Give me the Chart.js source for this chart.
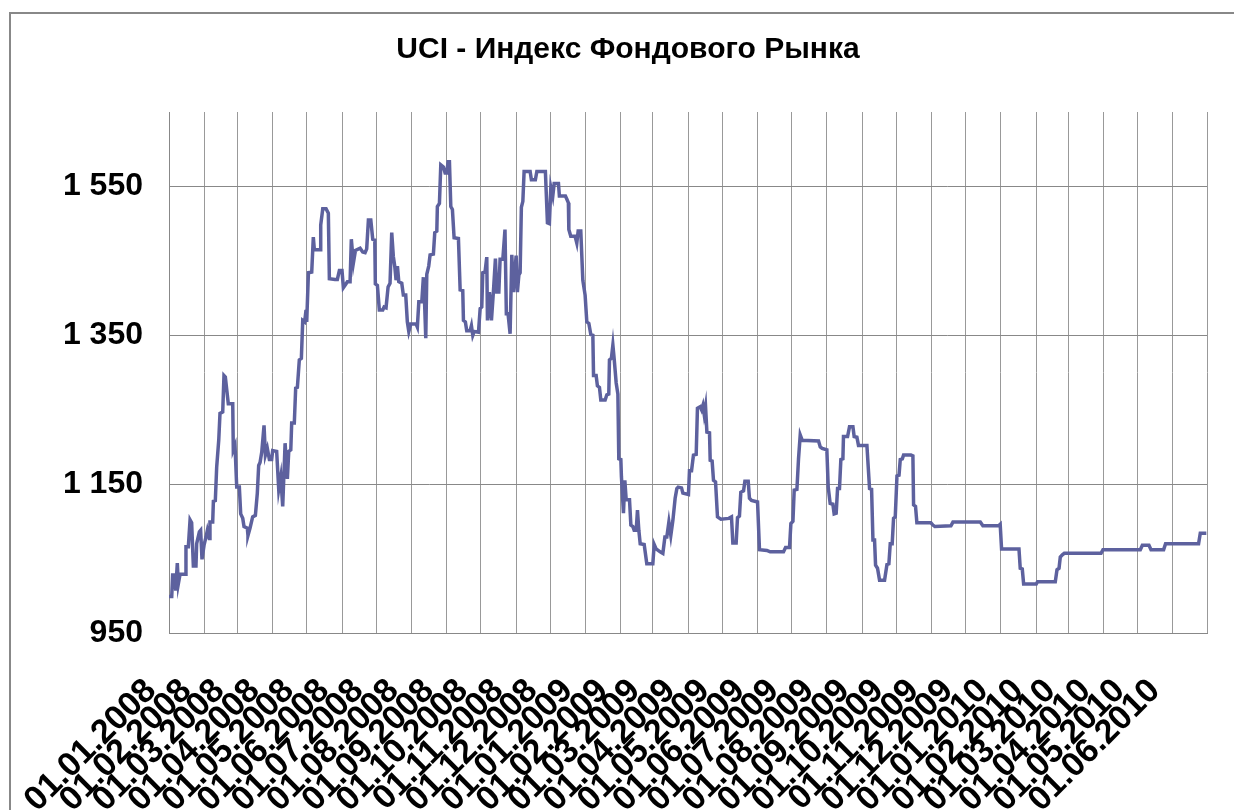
<!DOCTYPE html>
<html>
<head>
<meta charset="utf-8">
<script src="https://cdn.jsdelivr.net/npm/chart.js@4/dist/chart.umd.min.js"></script>
<style>
  body { margin: 0; background: #fff; }
  #wrap { position: relative; width: 1234px; height: 810px; overflow: hidden; }
  #frame { position: absolute; left: 9px; top: 12px; width: 1300px; height: 900px;
           border-left: 2px solid #888; border-top: 2px solid #888; }
  canvas { position: absolute; left: 0; top: 0; }
</style>
</head>
<body>
<div id="wrap">
  <div id="frame"></div>
  <canvas id="uciChart" width="1234" height="810"></canvas>
</div>
<script>
// день от 01.01.2008 и значение индекса UCI
var days = [0, 2.4, 3.2, 5.3, 5.9, 7.3, 8.2, 9.7, 14.1, 14.9, 17, 18.5, 19.9, 21.4, 23.7, 24.3, 26.7, 27.8, 29, 30.8,
  32.5, 33.7, 35.4, 36, 38.4, 39, 40.7, 41.9, 43.7, 44.8, 47.2, 48.3, 49.5, 52.1, 56, 56.5, 58, 59.5, 61.8, 63,
  64.8, 65.9, 68.8, 69.4, 71.2, 73.5, 75.9, 77.6, 78.8, 80, 81.5, 83.5, 84.7, 86.4, 88.2, 90.2, 91.1, 94.6, 96.4, 98.2,
  99.9, 102, 104, 105.2, 107, 107.8, 110.1, 111.3, 112.8, 114.5, 116.3, 117.5, 119.2, 120.4, 121, 122.5, 125.4, 126.8, 127.7, 132.7,
  133.3, 135.1, 138, 140, 140.9, 145.9, 147.9, 149.7, 152, 153.2, 155, 156.7, 159.1, 160.2, 162, 163.8, 167.9, 170.2, 172.3, 173.7,
  175.2, 177.3, 179, 180.8, 181.3, 183.1, 184.8, 187.8, 189, 190.7, 192.5, 194.2, 195.7, 197.1, 198.4, 199.5, 200.7, 201.9, 204.5, 205.9,
  208, 209.4, 210.7, 212.4, 217.1, 218.2, 219.5, 222.1, 223.5, 224.4, 225.6, 226.5, 228.2, 229.4, 232.3, 233.5, 235.3, 235.8, 237.6, 238.8,
  241.1, 242.6, 244.1, 245.2, 246.4, 247.6, 249, 250.5, 254.3, 255.8, 258.1, 258.7, 260.4, 261.6, 264.5, 265.7, 266.9, 268.1, 271.9, 273.4,
  274.8, 275.7, 277.7, 279.2, 279.8, 281.5, 283.3, 285, 286.8, 288, 289.8, 290.9, 293.3, 295.2, 296.4, 297.9, 299.7, 301.2, 302.6, 305,
  306.1, 307.4, 308.5, 309.6, 310.9, 312, 317.3, 318.4, 321.9, 323.2, 330.7, 332.5, 334.2, 335.5, 337.2, 338.4, 342.2, 343, 348.3, 349.5,
  350.9, 351.3, 353, 356.8, 358.3, 359.5, 361.8, 363.6, 365.6, 367.1, 368.9, 370.6, 372.4, 373, 375.3, 376.4, 378.2, 379.4, 383.2, 384.7,
  386.4, 387, 388.7, 390, 391.1, 392.9, 394.4, 395.2, 397, 397.5, 399.3, 400.5, 401.7, 404.6, 405.8, 407.6, 408.7, 410.5, 411.6, 412.8,
  414, 417.5, 419.8, 425.1, 426.3, 428, 431.5, 433.9, 435.7, 437.4, 439.2, 440.9, 442.7, 444.7, 446.2, 447.4, 450.3, 451.5, 456.4, 457.3,
  459.1, 460.8, 463.2, 464.3, 466.7, 467.9, 469.1, 470.2, 471.4, 472.6, 474.9, 475.5, 477.2, 478.4, 480.2, 481.9, 484.9, 491.9, 494.2, 495.4,
  498.3, 499.5, 501.2, 502.4, 504.8, 506, 508.9, 510, 511.8, 517.1, 518.8, 525.3, 528.2, 539.9, 541.7, 545.2, 546.4, 548.2, 549.3, 551.7,
  553.1, 554.6, 556.3, 570.7, 572.2, 573.9, 578, 579.2, 580.9, 583.3, 584.4, 586.2, 587.4, 589.1, 590.3, 592.1, 592.6, 596.2, 597.9, 600.9,
  602, 604.4, 605.8, 613.2, 615.5, 617.3, 618.5, 619.9, 620.8, 622.5, 624.3, 628.7, 630.8, 632.5, 633.7, 635.4, 636.6, 638.1, 639.6, 641.4,
  642.5, 644.3, 645.4, 651.9, 653.6, 654.2, 655.9, 657.1, 669.4, 671.2, 672.9, 687, 688.8, 712.8, 715.1, 728.9, 730.3, 731.5, 746.8, 747.9,
  749.7, 750.9, 762, 763.2, 778.7, 780.2, 782, 783.1, 784.9, 786.6, 818.9, 820.6, 853.4, 855.2, 861, 862.8, 873.9, 875.6, 904.6, 906.1,
  911.4];

var uci = [999, 999, 1028, 1028, 1007, 1044, 1016, 1029, 1029, 1066, 1066, 1102, 1098, 1040, 1040, 1070, 1086, 1088, 1049, 1068,
  1079, 1088, 1077, 1099, 1099, 1127, 1128, 1173, 1209, 1245, 1247, 1296, 1294, 1258, 1258, 1196, 1202, 1146, 1146, 1110,
  1104, 1093, 1091, 1081, 1091, 1106, 1108, 1138, 1175, 1179, 1193, 1229, 1189, 1198, 1183, 1183, 1195, 1194, 1143, 1160,
  1120, 1205, 1157, 1194, 1196, 1232, 1232, 1279, 1280, 1317, 1319, 1370, 1368, 1384, 1368, 1434, 1435, 1482, 1465, 1465,
  1498, 1520, 1520, 1514, 1426, 1425, 1425, 1437, 1437, 1414, 1418, 1422, 1422, 1479, 1447, 1464, 1467, 1462, 1461, 1466,
  1505, 1505, 1479, 1478, 1419, 1417, 1384, 1384, 1388, 1387, 1415, 1420, 1488, 1456, 1442, 1424, 1443, 1422, 1420, 1404,
  1404, 1368, 1355, 1365, 1365, 1361, 1395, 1395, 1428, 1401, 1346, 1432, 1443, 1458, 1459, 1488, 1490, 1523, 1527, 1579,
  1576, 1568, 1568, 1583, 1583, 1523, 1519, 1481, 1480, 1411, 1410, 1370, 1368, 1356, 1356, 1363, 1350, 1355, 1354, 1386,
  1388, 1434, 1435, 1455, 1370, 1408, 1370, 1408, 1453, 1408, 1408, 1452, 1452, 1492, 1379, 1379, 1352, 1458, 1408, 1457,
  1408, 1431, 1434, 1522, 1530, 1570, 1570, 1559, 1559, 1570, 1570, 1501, 1500, 1549, 1537, 1554, 1554, 1537, 1537, 1533,
  1528, 1492, 1483, 1483, 1474, 1490, 1490, 1424, 1404, 1368, 1366, 1351, 1350, 1296, 1296, 1282, 1280, 1263, 1263, 1270,
  1271, 1317, 1319, 1337, 1319, 1286, 1271, 1184, 1183, 1160, 1111, 1155, 1129, 1129, 1095, 1093, 1088, 1088, 1115, 1088,
  1070, 1069, 1043, 1043, 1069, 1063, 1059, 1057, 1079, 1079, 1099, 1081, 1101, 1131, 1144, 1146, 1145, 1138, 1136, 1168,
  1168, 1189, 1190, 1252, 1254, 1250, 1256, 1244, 1255, 1220, 1219, 1182, 1181, 1155, 1153, 1106, 1103, 1104, 1106, 1071,
  1071, 1105, 1107, 1139, 1141, 1154, 1154, 1131, 1128, 1126, 1062, 1061, 1059, 1059, 1065, 1065, 1097, 1100, 1142, 1143,
  1184, 1216, 1209, 1208, 1200, 1198, 1196, 1146, 1124, 1123, 1110, 1111, 1144, 1144, 1183, 1184, 1214, 1214, 1227, 1227,
  1214, 1213, 1202, 1202, 1144, 1143, 1075, 1075, 1041, 1037, 1021, 1021, 1042, 1043, 1070, 1070, 1104, 1106, 1161, 1162,
  1183, 1184, 1189, 1189, 1188, 1122, 1120, 1098, 1098, 1095, 1093, 1094, 1099, 1099, 1094, 1094, 1096, 1063, 1063, 1037,
  1036, 1016, 1016, 1019, 1019, 1035, 1037, 1052, 1055, 1057, 1057, 1062, 1062, 1068, 1068, 1062, 1062, 1070, 1070, 1084,
  1084];

// подписи оси Y
var yTicks = [950, 1150, 1350, 1550];

// начало каждого месяца: 01.01.2008 ... 01.07.2010
var monthStarts = [];
var monthLabels = [];
var start = Date.UTC(2008, 0, 1);
for (var y = 2008; y <= 2010; y++) {
    for (var m = 0; m < 12; m++) {
        if (y === 2010 && m > 6) break;
        monthStarts.push((Date.UTC(y, m, 1) - start) / 86400000);
        var mm = (m + 1 < 10 ? '0' : '') + (m + 1);
        monthLabels.push('01.' + mm + '.' + y);
    }
}
var lastDay = monthStarts[monthStarts.length - 1];

var points = days.map(function (d, i) { return { x: d, y: uci[i] }; });

var font = "'Liberation Sans', Arial, sans-serif";

var ctx = document.getElementById('uciChart').getContext('2d');
var uciChart = new Chart(ctx, {
    type: 'line',
    data: {
        datasets: [{
            label: 'UCI',
            data: points,
            borderColor: '#5d619e',
            borderWidth: 3.5,
            pointRadius: 0,
            tension: 0,
            fill: false
        }]
    },
    options: {
        responsive: false,
        animation: false,
        layout: { padding: { left: 22, top: 12, right: 0, bottom: 0 } },
        plugins: {
            legend: { display: false },
            tooltip: { enabled: false },
            title: {
                display: true,
                text: 'UCI - Индекс Фондового Рынка',
                color: '#000',
                font: { family: font, size: 30, weight: 'bold' },
                padding: { top: 20, bottom: 44 }
            }
        },
        scales: {
            x: {
                type: 'linear',
                min: 0,
                max: lastDay,
                afterBuildTicks: function (axis) {
                    axis.ticks = monthStarts.map(function (v) { return { value: v }; });
                },
                afterFit: function (axis) {
                    axis.height = 177;
                    axis.paddingLeft = 0;
                    axis.paddingRight = 27;
                },
                ticks: {
                    autoSkip: false,
                    minRotation: 45,
                    maxRotation: 45,
                    padding: 38,
                    labelOffset: -18,
                    color: '#000',
                    font: { family: font, size: 34, weight: 'bold' },
                    callback: function (value) {
                        var i = monthStarts.indexOf(value);
                        return (i >= 0 && value < lastDay) ? monthLabels[i] : '';
                    }
                },
                grid: { color: '#999', drawTicks: false },
                border: { color: '#888' }
            },
            y: {
                min: 950,
                max: 1650,
                afterBuildTicks: function (axis) {
                    axis.ticks = yTicks.map(function (v) { return { value: v }; });
                },
                afterFit: function (axis) { axis.width = 147; },
                ticks: {
                    padding: 26,
                    color: '#000',
                    font: { family: font, size: 32, weight: 'bold' },
                    callback: function (value) {
                        return String(value).replace(/\B(?=(\d{3})+(?!\d))/g, ' ');
                    }
                },
                grid: { color: '#888', drawTicks: false },
                border: { color: '#888' }
            }
        }
    }
});
</script>
</body>
</html>
